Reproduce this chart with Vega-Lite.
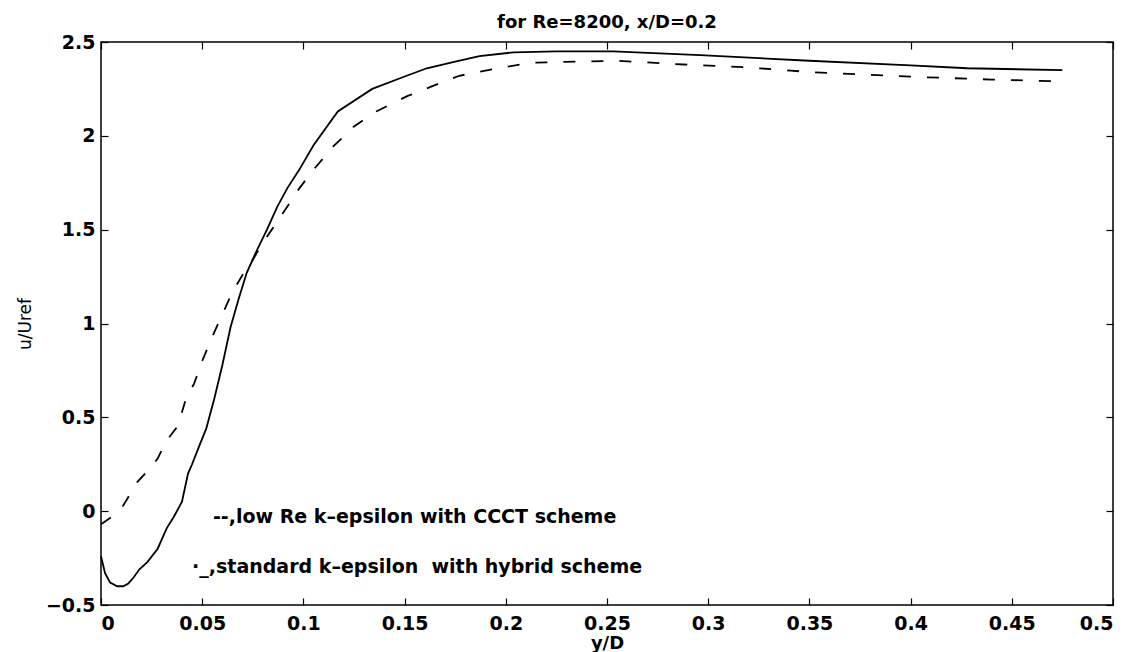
{
  "$schema": "https://vega.github.io/schema/vega-lite/v6.json",
  "width": 1012,
  "height": 563,
  "autosize": "none",
  "padding": {"left": 101, "top": 42, "right": 31, "bottom": 47},
  "background": "white",
  "config": {
    "view": {"stroke": "black", "strokeWidth": 1.5},
    "font": "DejaVu Sans",
    "axis": {
      "domain": false,
      "grid": false,
      "tickColor": "black",
      "tickSize": -7,
      "tickWidth": 1.2,
      "labelFont": "DejaVu Sans",
      "labelFontWeight": "bold",
      "labelFontSize": 19,
      "labelColor": "black",
      "titleColor": "black",
      "titleFont": "DejaVu Sans"
    }
  },
  "title": {
    "text": "for Re=8200, x/D=0.2",
    "fontSize": 18,
    "fontWeight": "bold",
    "font": "DejaVu Sans",
    "color": "black",
    "anchor": "middle",
    "offset": 1
  },
  "datasets": {
    "low": [
      {"yD": 0, "u": -0.24}, {"yD": 0.002, "u": -0.33}, {"yD": 0.0045, "u": -0.38},
      {"yD": 0.008, "u": -0.40}, {"yD": 0.011, "u": -0.40}, {"yD": 0.0135, "u": -0.385},
      {"yD": 0.016, "u": -0.355}, {"yD": 0.019, "u": -0.31}, {"yD": 0.023, "u": -0.27},
      {"yD": 0.028, "u": -0.20}, {"yD": 0.0325, "u": -0.09}, {"yD": 0.036, "u": -0.03},
      {"yD": 0.040, "u": 0.05}, {"yD": 0.043, "u": 0.20}, {"yD": 0.045, "u": 0.25},
      {"yD": 0.049, "u": 0.36}, {"yD": 0.052, "u": 0.44}, {"yD": 0.056, "u": 0.60},
      {"yD": 0.060, "u": 0.78}, {"yD": 0.064, "u": 0.98}, {"yD": 0.068, "u": 1.13},
      {"yD": 0.072, "u": 1.27}, {"yD": 0.077, "u": 1.39}, {"yD": 0.082, "u": 1.50},
      {"yD": 0.087, "u": 1.62}, {"yD": 0.092, "u": 1.72}, {"yD": 0.098, "u": 1.82},
      {"yD": 0.105, "u": 1.95}, {"yD": 0.117, "u": 2.13}, {"yD": 0.134, "u": 2.25},
      {"yD": 0.151, "u": 2.32}, {"yD": 0.161, "u": 2.36}, {"yD": 0.175, "u": 2.395},
      {"yD": 0.187, "u": 2.425}, {"yD": 0.204, "u": 2.445}, {"yD": 0.225, "u": 2.45},
      {"yD": 0.253, "u": 2.45}, {"yD": 0.296, "u": 2.43}, {"yD": 0.35, "u": 2.40},
      {"yD": 0.40, "u": 2.375}, {"yD": 0.428, "u": 2.36}, {"yD": 0.475, "u": 2.35}
    ],
    "std": [
      {"yD": 0, "u": -0.07}, {"yD": 0.006, "u": -0.025}, {"yD": 0.011, "u": 0.03},
      {"yD": 0.018, "u": 0.156}, {"yD": 0.024, "u": 0.225}, {"yD": 0.028, "u": 0.28},
      {"yD": 0.032, "u": 0.37}, {"yD": 0.038, "u": 0.454}, {"yD": 0.042, "u": 0.60},
      {"yD": 0.046, "u": 0.68}, {"yD": 0.050, "u": 0.80}, {"yD": 0.055, "u": 0.93},
      {"yD": 0.060, "u": 1.05}, {"yD": 0.065, "u": 1.17}, {"yD": 0.070, "u": 1.26},
      {"yD": 0.075, "u": 1.34}, {"yD": 0.080, "u": 1.43}, {"yD": 0.085, "u": 1.51},
      {"yD": 0.090, "u": 1.59}, {"yD": 0.098, "u": 1.72}, {"yD": 0.105, "u": 1.82},
      {"yD": 0.115, "u": 1.946}, {"yD": 0.125, "u": 2.05}, {"yD": 0.136, "u": 2.13},
      {"yD": 0.151, "u": 2.21}, {"yD": 0.164, "u": 2.266}, {"yD": 0.177, "u": 2.32},
      {"yD": 0.194, "u": 2.356}, {"yD": 0.213, "u": 2.39}, {"yD": 0.255, "u": 2.40},
      {"yD": 0.288, "u": 2.38}, {"yD": 0.319, "u": 2.365}, {"yD": 0.35, "u": 2.34},
      {"yD": 0.40, "u": 2.315}, {"yD": 0.44, "u": 2.30}, {"yD": 0.475, "u": 2.29}
    ],
    "notes": [
      {"yD": 0.0553, "u": -0.03, "label": "--,low Re k–epsilon with CCCT scheme"},
      {"yD": 0.0450, "u": -0.30, "label": "·_,standard k–epsilon\u00a0 with hybrid scheme"}
    ]
  },
  "layer": [
    {
      "data": {"name": "low"},
      "mark": {"type": "line", "color": "black", "strokeWidth": 1.8},
      "encoding": {
        "x": {
          "field": "yD", "type": "quantitative",
          "scale": {"domain": [0, 0.5], "nice": false, "zero": false},
          "axis": {
            "orient": "bottom", "title": "y/D",
            "values": [0, 0.05, 0.1, 0.15, 0.2, 0.25, 0.3, 0.35, 0.4, 0.45, 0.5],
            "format": "~g", "labelPadding": 16, "titleFontSize": 18,
            "titleFontWeight": "bold", "titlePadding": 1
          }
        },
        "y": {
          "field": "u", "type": "quantitative",
          "scale": {"domain": [-0.5, 2.5], "nice": false, "zero": false},
          "axis": {
            "orient": "left", "title": "u/Uref",
            "values": [-0.5, 0, 0.5, 1, 1.5, 2, 2.5],
            "format": "~g", "labelPadding": 13, "titleFontSize": 17,
            "titleFontWeight": "normal", "titlePadding": 11
          }
        }
      }
    },
    {
      "data": {"name": "std"},
      "mark": {"type": "line", "color": "black", "strokeWidth": 1.8, "strokeDash": [12, 16]},
      "encoding": {
        "x": {
          "field": "yD", "type": "quantitative",
          "axis": {
            "orient": "top", "title": null, "labels": false,
            "values": [0, 0.05, 0.1, 0.15, 0.2, 0.25, 0.3, 0.35, 0.4, 0.45, 0.5]
          }
        },
        "y": {
          "field": "u", "type": "quantitative",
          "axis": {
            "orient": "right", "title": null, "labels": false,
            "values": [-0.5, 0, 0.5, 1, 1.5, 2, 2.5]
          }
        }
      }
    },
    {
      "data": {"name": "notes"},
      "mark": {"type": "text", "align": "left", "baseline": "middle", "fontSize": 19, "fontWeight": "bold", "font": "DejaVu Sans", "color": "black"},
      "encoding": {
        "x": {"field": "yD", "type": "quantitative", "axis": null},
        "y": {"field": "u", "type": "quantitative", "axis": null},
        "text": {"field": "label"}
      }
    }
  ]
}
